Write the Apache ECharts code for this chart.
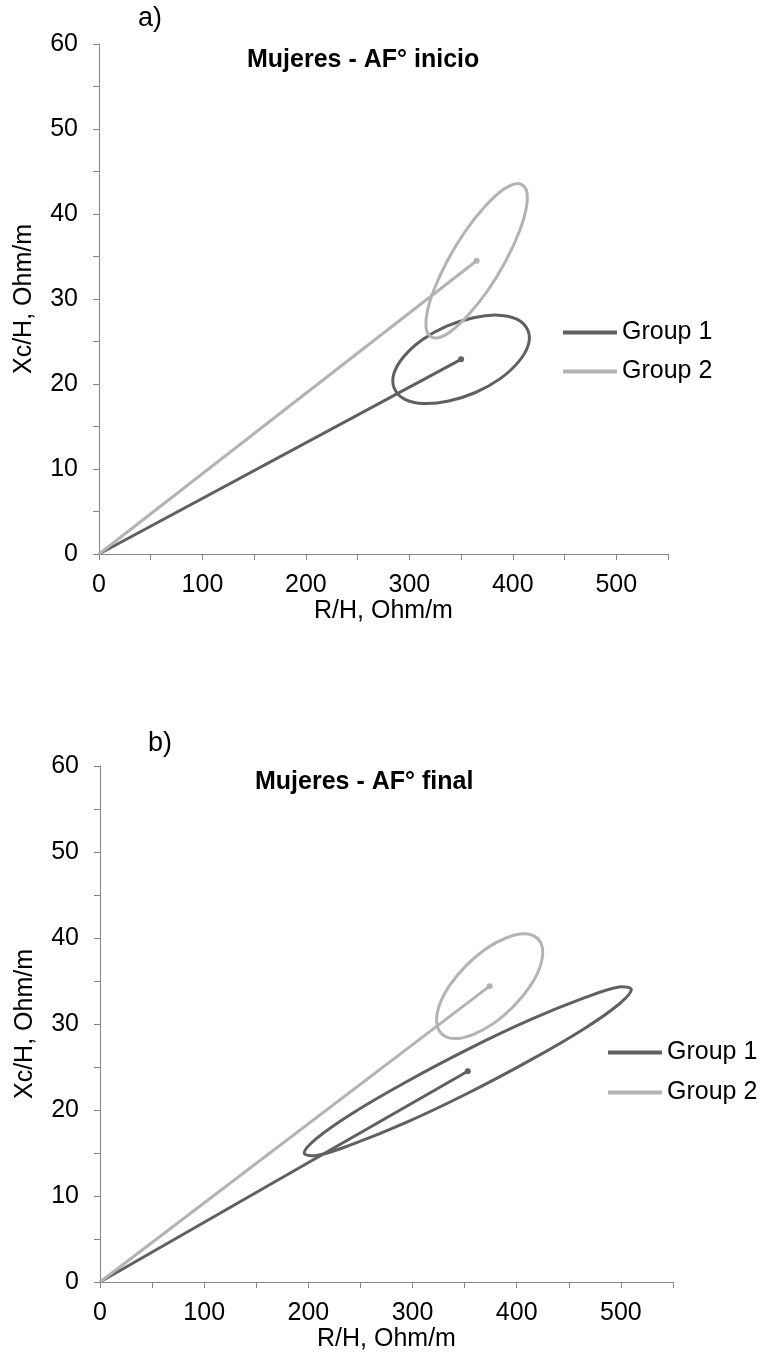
<!DOCTYPE html>
<html>
<head>
<meta charset="utf-8">
<script src="https://cdn.jsdelivr.net/npm/echarts@6/dist/echarts.min.js"></script>
<style>
  html, body { margin: 0; padding: 0; background: #fff; }
  #chart { width: 766px; height: 1355px; }
</style>
</head>
<body>
<div id="chart"></div>
<script>
// Tick labels shown on the axes
const xTickLabels = [0, 100, 200, 300, 400, 500];
const yTickLabels = [0, 10, 20, 30, 40, 50, 60];
const groups = ['Group 1', 'Group 2'];

// Panel a) - Mujeres, AF° inicio: mean vectors (R/H, Xc/H) and the outline of each ellipse
const meanA1 = [350, 22.9];
const ellipseA1 = [
  [363.9, 19.0], [338.1, 18.0], [314.1, 17.7], [295.6, 18.2], [285.4, 19.5],
  [285.0, 21.2], [294.5, 23.2], [312.5, 25.2], [336.1, 26.8], [361.9, 27.8],
  [385.9, 28.1], [404.4, 27.6], [414.6, 26.3], [415.0, 24.6], [405.5, 22.6],
  [387.5, 20.6]
];
const meanA2 = [365, 34.5];
const ellipseA2 = [
  [393.3, 34.5], [375.8, 31.0], [356.7, 28.1], [338.9, 26.1], [325.0, 25.4],
  [317.2, 26.1], [316.7, 28.1], [323.5, 31.0], [336.7, 34.5], [354.2, 38.0],
  [373.3, 40.9], [391.1, 42.9], [405.0, 43.6], [412.8, 42.9], [413.3, 40.9],
  [406.5, 38.0]
];

// Panel b) - Mujeres, AF° final
const meanB1 = [353, 24.5];
const ellipseB1 = [
  [353.0, 27.05], [292.9, 23.2], [242.0, 19.6], [207.9, 16.7], [196.0, 15.0],
  [207.9, 14.7], [242.0, 16.0], [292.9, 18.5], [353.0, 21.95], [413.1, 25.8],
  [464.0, 29.4], [498.1, 32.3], [510.0, 34.0], [498.1, 34.3], [464.0, 33.0],
  [413.1, 30.5]
];
const meanB2 = [374, 34.4];
const ellipseB2 = [
  [412.9, 34.4], [397.3, 32.1], [378.2, 30.1], [358.4, 28.8], [341.0, 28.3],
  [328.6, 28.8], [323.2, 30.1], [325.5, 32.1], [335.1, 34.4], [350.7, 36.7],
  [369.8, 38.7], [389.6, 40.0], [407.0, 40.5], [419.4, 40.0], [424.8, 38.7],
  [422.5, 36.7]
];

const origin = [0, 0];
const colors = ['#606060', '#b3b3b3'];
const font = 'Liberation Sans, Arial, sans-serif';
const axisColor = '#868686';

function xAxisCfg(gridIndex) {
  return {
    type: 'value', gridIndex, min: 0, max: 550, interval: 50,
    axisLine: { show: true, lineStyle: { color: axisColor, width: 1 } },
    axisTick: { show: true, length: 6, lineStyle: { color: axisColor } },
    splitLine: { show: false },
    axisLabel: {
      color: '#000', fontSize: 25, fontFamily: font, margin: 19,
      formatter: v => (xTickLabels.includes(v) ? String(v) : '')
    },
    name: 'R/H, Ohm/m', nameLocation: 'middle', nameGap: 44,
    nameTextStyle: { color: '#000', fontSize: 25, fontFamily: font }
  };
}
function yAxisCfg(gridIndex) {
  return {
    type: 'value', gridIndex, min: 0, max: 60, interval: 5,
    axisLine: { show: true, lineStyle: { color: axisColor, width: 1 } },
    axisTick: { show: true, length: 6, lineStyle: { color: axisColor } },
    splitLine: { show: false },
    axisLabel: {
      color: '#000', fontSize: 25, fontFamily: font, margin: 21,
      formatter: v => (yTickLabels.includes(v) ? String(v) : '')
    },
    name: 'Xc/H, Ohm/m', nameLocation: 'middle', nameGap: 62, nameRotate: 90,
    nameTextStyle: { color: '#000', fontSize: 25, fontFamily: font }
  };
}

// Straight segment from the origin to the group mean, with a dot at the mean
function vectorSeries(name, idx, mean, color) {
  return {
    type: 'line', name, xAxisIndex: idx, yAxisIndex: idx,
    data: [{ value: origin, symbol: 'none' }, { value: mean }],
    symbol: 'circle', symbolSize: 6, showSymbol: true,
    lineStyle: { color, width: 3 }, itemStyle: { color },
    z: 3, silent: true
  };
}
// Closed, smoothed outline through the listed ellipse points
function ellipseSeries(name, idx, pts, color) {
  return {
    type: 'custom', name, xAxisIndex: idx, yAxisIndex: idx,
    coordinateSystem: 'cartesian2d',
    data: pts,
    encode: { x: 0, y: 1 },
    renderItem: (params, api) => {
      if (params.dataIndex !== 0) return null;
      return {
        type: 'polygon',
        shape: { points: pts.map(p => api.coord(p)), smooth: 0.35 },
        style: { fill: 'none', stroke: color, lineWidth: 3 },
        silent: true
      };
    },
    itemStyle: { color }, z: 2, silent: true
  };
}

const titleText = (text, left, top, size, weight) => ({
  text, left, top, padding: 0,
  textStyle: { fontSize: size, fontWeight: weight, color: '#000', fontFamily: font }
});
const legendCfg = (left, top, gap) => ({
  data: groups, orient: 'vertical', left, top, itemGap: gap, padding: 0,
  icon: 'rect', itemWidth: 54, itemHeight: 4,
  textStyle: { fontSize: 25, color: '#000', fontFamily: font }
});

const chart = echarts.init(document.getElementById('chart'), null, { renderer: 'canvas' });
chart.setOption({
  animation: false,
  backgroundColor: '#fff',
  color: colors,
  title: [
    titleText('a)', 138, 5, 27, 'normal'),
    titleText('Mujeres - AF° inicio', 247, 48, 25, 'bold'),
    titleText('b)', 148, 730, 27, 'normal'),
    titleText('Mujeres - AF° final', 255, 770, 25, 'bold')
  ],
  legend: [legendCfg(563, 320, 14), legendCfg(608, 1040, 15)],
  grid: [
    { left: 99, top: 44, width: 569, height: 510 },
    { left: 100, top: 766, width: 573, height: 516 }
  ],
  xAxis: [xAxisCfg(0), xAxisCfg(1)],
  yAxis: [yAxisCfg(0), yAxisCfg(1)],
  series: [
    vectorSeries(groups[0], 0, meanA1, colors[0]),
    ellipseSeries(groups[0], 0, ellipseA1, colors[0]),
    vectorSeries(groups[1], 0, meanA2, colors[1]),
    ellipseSeries(groups[1], 0, ellipseA2, colors[1]),
    vectorSeries(groups[0], 1, meanB1, colors[0]),
    ellipseSeries(groups[0], 1, ellipseB1, colors[0]),
    vectorSeries(groups[1], 1, meanB2, colors[1]),
    ellipseSeries(groups[1], 1, ellipseB2, colors[1])
  ]
});
</script>
</body>
</html>
